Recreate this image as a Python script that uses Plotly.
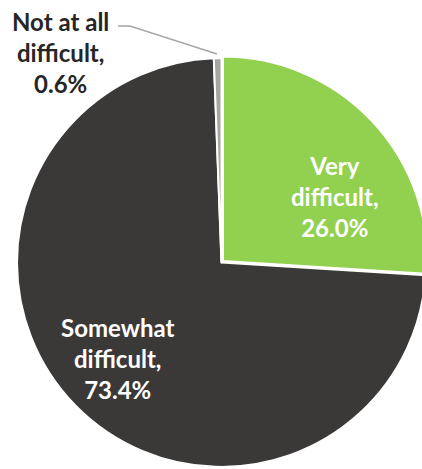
import plotly.graph_objects as go

labels = ["Very difficult", "Somewhat difficult", "Not at all difficult"]
values = [26.0, 73.4, 0.6]
colors = ["#92D050", "#3B3938", "#A5A5A5"]
label_text = ["Very<br>difficult,", "Somewhat<br>difficult,", "Not at all<br>difficult,"]

OFF = 0
W, H = 430, 469

PULL = 0.01
CX, CY, R = 221.5, 262.5, 204.5
Rd = R * (1 + PULL)


def px(x, y):
    return (x - OFF) / W, 1 - (y - OFF) / H


x0, y0 = px(CX - Rd, CY + Rd)
x1, y1 = px(CX + Rd, CY - Rd)

fig = go.Figure()
fig.add_trace(go.Pie(
    labels=labels,
    values=values,
    sort=False,
    direction="clockwise",
    rotation=0,
    marker=dict(colors=colors, line=dict(color="white", width=2)),
    pull=[PULL, 0, 0],
    textinfo="none",
    hoverinfo="label+percent",
    showlegend=False,
    domain=dict(x=[max(x0, 0), min(x1, 1)], y=[max(y0, 0), min(y1, 1)]),
))

font_in = dict(family="Lato, Open Sans, sans-serif", size=24, color="white", weight="bold")
font_out = dict(family="Lato, Open Sans, sans-serif", size=24, color="#262626", weight="bold")

positions = [(335, 196, font_in), (117, 358, font_in), (61, 52, font_out)]
for txt, v, (x, y, f) in zip(label_text, values, positions):
    ax, ay = px(x, y)
    fig.add_annotation(
        x=ax, y=ay, xref="paper", yref="paper",
        text=f"{txt}<br>{v:.1f}%",
        showarrow=False, xanchor="center", yanchor="middle",
        font=f, align="center",
    )

# leader line for the small slice label
lx = [118, 130, 217]
ly = [26, 26, 54]
path = "M " + " L ".join(f"{px(a, b)[0]},{px(a, b)[1]}" for a, b in zip(lx, ly))
fig.add_shape(type="path", path=path, xref="paper", yref="paper",
              line=dict(color="#A6A6A6", width=1.5))

fig.update_layout(
    width=W, height=H,
    margin=dict(l=0, r=0, t=0, b=0),
    paper_bgcolor="white",
    plot_bgcolor="white",
)

fig.write_html(
    "out.html",
    config={"displayModeBar": False},
    post_script=(
        "document.body.style.margin='0';"
        "document.body.style.overflow='hidden';"
        "document.documentElement.style.overflow='hidden';"
    ),
)
